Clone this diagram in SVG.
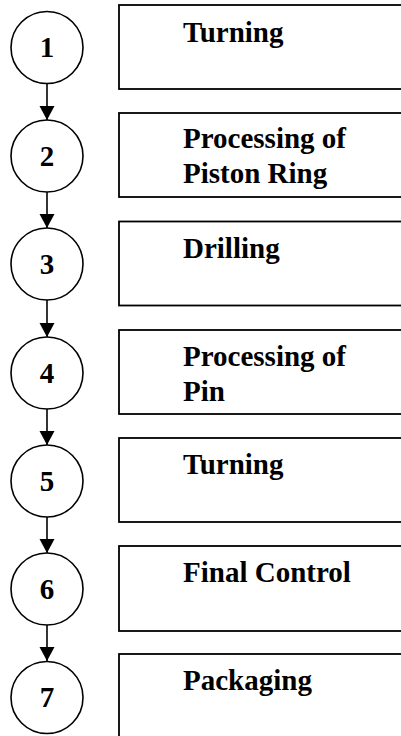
<svg xmlns="http://www.w3.org/2000/svg" width="401" height="736" viewBox="0 0 401 736">
  <defs>
    <marker id="arrow" markerUnits="userSpaceOnUse" markerWidth="16" markerHeight="16" refX="14" refY="7.5" orient="auto">
      <path d="M0,0 L14,7.5 L0,15 Z" fill="#000"/>
    </marker>
    <style>
      .step { fill: #fff; stroke: #000; stroke-width: 1.6; }
      .box { fill: #fff; stroke: #000; stroke-width: 1.8; }
      .num { font-family: "Liberation Serif", "Times New Roman", serif; font-weight: bold; font-size: 29px; text-anchor: middle; fill: #000; }
      .label { font-family: "Liberation Serif", "Times New Roman", serif; font-weight: bold; font-size: 29px; fill: #000; }
      .link { stroke: #000; stroke-width: 1.6; fill: none; marker-end: url(#arrow); }
    </style>
  </defs>
  <rect width="401" height="736" fill="#fff"/>

  <!-- connectors between step circles -->
  <g id="connectors">
    <line class="link" x1="47" y1="84" x2="47" y2="120"/>
    <line class="link" x1="47" y1="192" x2="47" y2="228"/>
    <line class="link" x1="47" y1="300" x2="47" y2="337"/>
    <line class="link" x1="47" y1="409" x2="47" y2="445"/>
    <line class="link" x1="47" y1="517" x2="47" y2="553"/>
    <line class="link" x1="47" y1="625" x2="47" y2="661"/>
  </g>

  <g id="step1">
    <circle class="step" cx="47" cy="47.5" r="36"/>
    <text class="num" x="47" y="57">1</text>
    <rect class="box" x="119" y="5" width="300" height="84"/>
    <text class="label" x="183" y="42">Turning</text>
  </g>

  <g id="step2">
    <circle class="step" cx="47" cy="156" r="36"/>
    <text class="num" x="47" y="166">2</text>
    <rect class="box" x="119" y="113" width="300" height="84"/>
    <text class="label" x="183" y="148">Processing of</text>
    <text class="label" x="183" y="183">Piston Ring</text>
  </g>

  <g id="step3">
    <circle class="step" cx="47" cy="264" r="36"/>
    <text class="num" x="47" y="274">3</text>
    <rect class="box" x="119" y="221.5" width="300" height="84"/>
    <text class="label" x="183" y="258">Drilling</text>
  </g>

  <g id="step4">
    <circle class="step" cx="47" cy="373" r="36"/>
    <text class="num" x="47" y="383">4</text>
    <rect class="box" x="119" y="330" width="300" height="84"/>
    <text class="label" x="183" y="366">Processing of</text>
    <text class="label" x="183" y="401">Pin</text>
  </g>

  <g id="step5">
    <circle class="step" cx="47" cy="481" r="36"/>
    <text class="num" x="47" y="491">5</text>
    <rect class="box" x="119" y="438" width="300" height="84"/>
    <text class="label" x="183" y="474">Turning</text>
  </g>

  <g id="step6">
    <circle class="step" cx="47" cy="589" r="36"/>
    <text class="num" x="47" y="599">6</text>
    <rect class="box" x="119" y="546" width="300" height="85"/>
    <text class="label" x="183" y="582">Final Control</text>
  </g>

  <g id="step7">
    <circle class="step" cx="47" cy="697.5" r="36"/>
    <text class="num" x="47" y="707">7</text>
    <rect class="box" x="119" y="654" width="300" height="90"/>
    <text class="label" x="183" y="690">Packaging</text>
  </g>
</svg>
